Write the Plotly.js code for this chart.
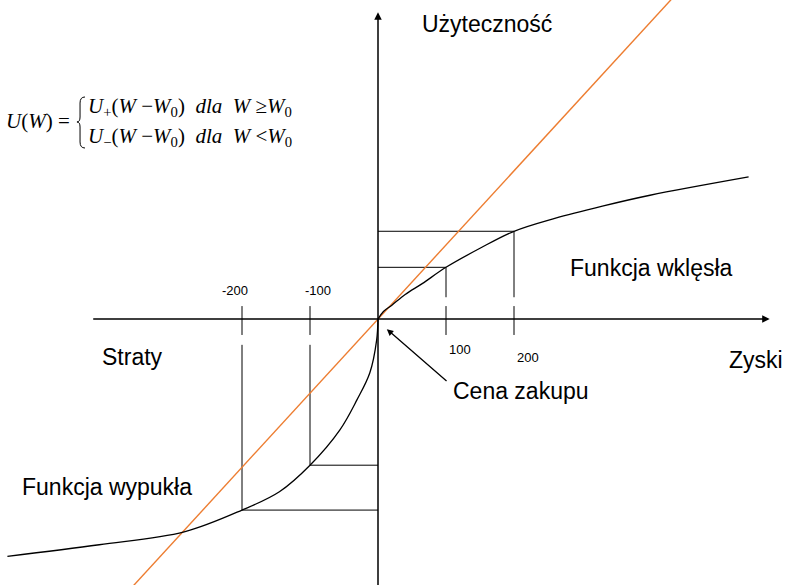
<!DOCTYPE html>
<html>
<head>
<meta charset="utf-8">
<script src="https://cdn.plot.ly/plotly-3.0.1.min.js"></script>
<style>
  html, body { margin: 0; padding: 0; background: #fff; }
  #chart { width: 787px; height: 585px; }
</style>
</head>
<body>
<div id="chart"></div>
<script>
// value function: losses (convex) and gains (concave)
const lossX = [-545, -410, -285, -200, -145, -100, -56, -31, -12, -2, 0];
const lossY = [-349, -332, -313, -281, -254, -215, -163, -119, -79, -31, 0];
const gainX = [0, 8, 20, 40, 65, 100, 150, 200, 260, 330, 400, 545];
const gainY = [0, 11, 20, 36, 52, 76, 104, 129, 148, 166, 182, 209];

// linear utility (orange)
const linX = [-365, 435];
const linY = [-398, 474];

// marked points on the x axis
const guideX = [-200, -100, 100, 200];
const guideLabels = ['-200', '-100', '100', '200'];

// page geometry
const W = 787, H = 585;
const ox = 378, oy = 319, k = 0.68;   // origin in px, px per unit
const px = x => x / W;
const py = y => 1 - y / H;

function curveAt(x) {
  const xs = x < 0 ? lossX : gainX;
  const ys = x < 0 ? lossY : gainY;
  return ys[xs.indexOf(x)];
}

// guide lines: ticks across the axis, drop lines to the curve, lines back to the y axis
const gx = [], gy = [];
const tickTop = 19, tickBot = -23.5, gapPos = 32, gapNeg = -38;
guideX.forEach(g => {
  const yc = curveAt(g);
  gx.push(g, g, null); gy.push(tickTop, tickBot, null);
  if (g > 0) { gx.push(g, g, null); gy.push(yc, gapPos, null); }
  else { gx.push(g, g, null); gy.push(gapNeg, yc, null); }
  gx.push(0, g, null); gy.push(yc, yc, null);
});

const data = [
  { x: gx, y: gy, mode: 'lines', line: { color: '#000', width: 1 }, hoverinfo: 'skip' },
  { x: linX, y: linY, mode: 'lines', line: { color: '#ED7D31', width: 1.4 }, hoverinfo: 'skip' },
  { x: lossX, y: lossY, mode: 'lines', line: { color: '#000', width: 1.3, shape: 'spline', smoothing: 1 }, hoverinfo: 'skip' },
  { x: gainX, y: gainY, mode: 'lines', line: { color: '#000', width: 1.3, shape: 'spline', smoothing: 1 }, hoverinfo: 'skip' }
];

const sans = { family: 'Liberation Sans, Arial, sans-serif', color: '#000' };
const serif = { family: 'Liberation Serif, Times New Roman, serif', color: '#000', size: 21 };

function label(text, x, y, size, anchor) {
  return { text: text, xref: 'paper', yref: 'paper', x: px(x), y: py(y),
           xanchor: anchor || 'center', yanchor: 'middle', showarrow: false,
           font: Object.assign({}, sans, { size: size }) };
}

const annotations = [
  // axes with arrows
  { x: 576, y: 0, ax: -421, ay: 0, xref: 'x', yref: 'y', axref: 'x', ayref: 'y',
    text: '', showarrow: true, arrowhead: 2, arrowsize: 1, arrowwidth: 1.5, arrowcolor: '#000' },
  { x: 0, y: 451, ax: 0, ay: -395, xref: 'x', yref: 'y', axref: 'x', ayref: 'y',
    text: '', showarrow: true, arrowhead: 2, arrowsize: 1, arrowwidth: 1.5, arrowcolor: '#000' },
  // purchase price pointer
  { x: 13, y: -15, ax: 103, ay: -93, xref: 'x', yref: 'y', axref: 'x', ayref: 'y',
    text: '', showarrow: true, arrowhead: 2, arrowsize: 1, arrowwidth: 1.3, arrowcolor: '#000' },

  label('Użyteczność', 487, 24, 23),
  label('Funkcja wklęsła', 651, 268, 23),
  label('Straty', 132, 357, 23),
  label('Zyski', 756, 360, 23),
  label('Cena zakupu', 521, 391, 23),
  label('Funkcja wypukła', 107, 487, 23),
  label(guideLabels[0], 235, 290, 13),
  label(guideLabels[1], 318, 290, 13),
  label(guideLabels[2], 460, 349, 13),
  label(guideLabels[3], 528, 357, 13),

  // formula
  { text: '<i>U</i>(<i>W</i>) =', xref: 'paper', yref: 'paper', x: px(4), y: py(121),
    xanchor: 'left', yanchor: 'middle', showarrow: false, font: serif },
  { text: '<i>U</i><sub>+</sub>(<i>W</i> \u2212<i>W</i><sub>0</sub>)\u00a0\u00a0<i>dla</i>\u00a0\u00a0<i>W</i> \u2265<i>W</i><sub>0</sub>',
    xref: 'paper', yref: 'paper', x: px(86), y: py(107),
    xanchor: 'left', yanchor: 'middle', showarrow: false, font: serif },
  { text: '<i>U</i><sub>\u2212</sub>(<i>W</i> \u2212<i>W</i><sub>0</sub>)\u00a0\u00a0<i>dla</i>\u00a0\u00a0<i>W</i> &lt;<i>W</i><sub>0</sub>',
    xref: 'paper', yref: 'paper', x: px(86), y: py(137),
    xanchor: 'left', yanchor: 'middle', showarrow: false, font: serif }
];

// curly brace of the formula
const P = (x, y) => px(x).toFixed(4) + ',' + py(y).toFixed(4);
const brace = 'M' + P(85, 97) + ' Q' + P(80, 97) + ' ' + P(80, 103) +
  ' L' + P(80, 117) + ' Q' + P(80, 122) + ' ' + P(77, 122) +
  ' Q' + P(80, 122) + ' ' + P(80, 127) + ' L' + P(80, 142) +
  ' Q' + P(80, 148) + ' ' + P(85, 148);

const layout = {
  width: W, height: H,
  margin: { l: 0, r: 0, t: 0, b: 0 },
  paper_bgcolor: '#fff', plot_bgcolor: '#fff',
  showlegend: false,
  xaxis: { range: [-ox / k, (W - ox) / k], visible: false, fixedrange: true },
  yaxis: { range: [-(H - oy) / k, oy / k], visible: false, fixedrange: true },
  annotations: annotations,
  shapes: [{ type: 'path', path: brace, xref: 'paper', yref: 'paper', line: { color: '#000', width: 1 } }]
};

Plotly.newPlot('chart', data, layout, { displayModeBar: false, staticPlot: true });
</script>
</body>
</html>
